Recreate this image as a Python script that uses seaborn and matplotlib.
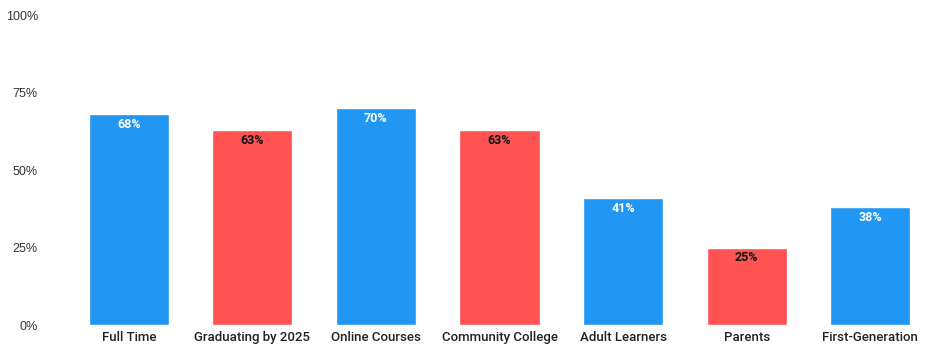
import matplotlib
matplotlib.use("Agg")
import matplotlib.pyplot as plt
import seaborn as sns
import pandas as pd

categories = ["Full Time", "Graduating by 2025", "Online Courses", "Community College",
              "Adult Learners", "Parents", "First-Generation"]
values = [68, 63, 70, 63, 41, 25, 38]
groups = ["blue", "red", "blue", "red", "blue", "red", "blue"]
yticks = [0, 25, 50, 75, 100]
ytick_labels = ["0%", "25%", "50%", "75%", "100%"]

sns.set_theme(style="white")
plt.rcParams['font.family'] = ['Roboto', 'DejaVu Sans']

palette = {"blue": "#2196F3", "red": "#FF5252"}
df = pd.DataFrame({"category": categories, "value": values, "group": groups})

fig = plt.figure(figsize=(9.41, 3.53), dpi=100)
ax = fig.add_axes([67/941, 1-325/353, (932-67)/941, (325-15)/353])
sns.barplot(data=df, x="category", y="value", hue="group", palette=palette,
            dodge=False, legend=False, width=0.648, ax=ax, saturation=1)

ax.set_ylim(0, 100)
ax.set_yticks(yticks)
ax.set_yticklabels(ytick_labels, fontsize=9, color="#333333", family=["Liberation Sans", "DejaVu Sans"])
ax.tick_params(axis="y", length=0, pad=21)
ax.tick_params(axis="x", length=0, pad=4)
for lab in ax.get_xticklabels():
    lab.set_fontsize(9.5)
    lab.set_fontweight("medium")
    lab.set_color("#222222")
ax.set_xlabel("")
ax.set_ylabel("")
for s in ax.spines.values():
    s.set_visible(False)
ax.grid(False)

for i, (v, g) in enumerate(zip(values, groups)):
    ax.annotate(f"{v}%", xy=(i, v), xytext=(0, -7.5), textcoords="offset points",
                ha="center", va="center", fontsize=9, fontweight="bold",
                color="white" if g == "blue" else "#111111")

fig.savefig("out.png", dpi=100)
